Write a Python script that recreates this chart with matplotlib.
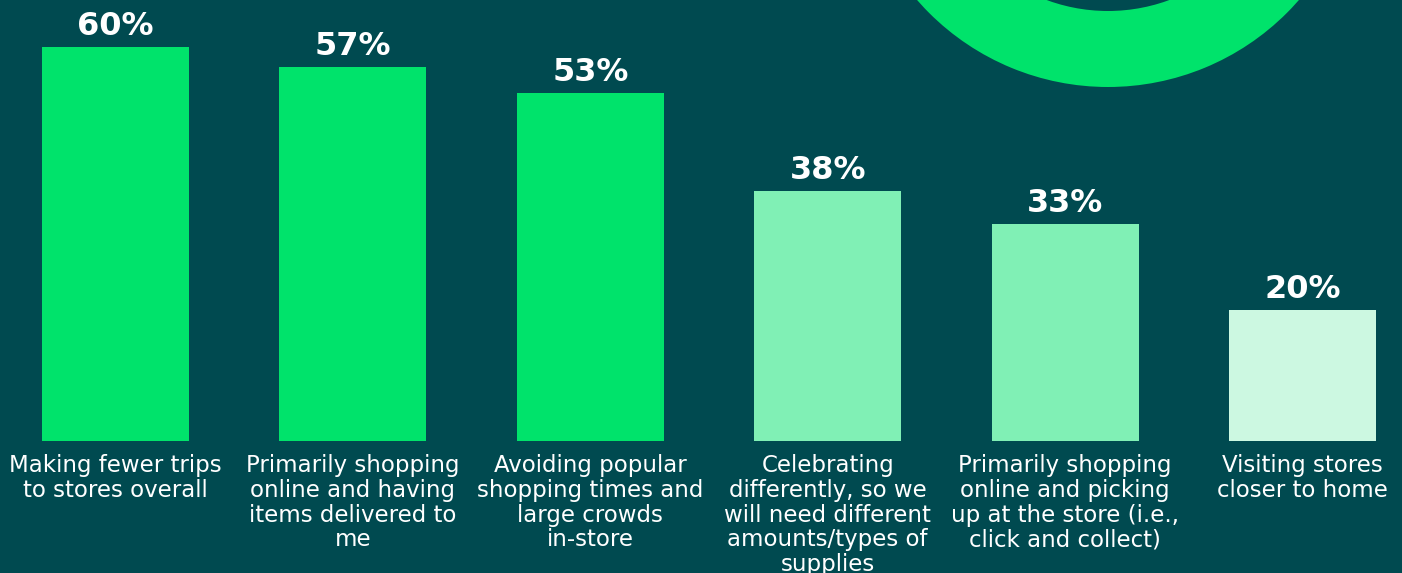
import numpy as np
import matplotlib
matplotlib.use("Agg")
import matplotlib.pyplot as plt
from matplotlib.patches import Wedge

# data
categories = ["Making fewer trips\nto stores overall",
              "Primarily shopping\nonline and having\nitems delivered to\nme",
              "Avoiding popular\nshopping times and\nlarge crowds\nin-store",
              "Celebrating\ndifferently, so we\nwill need different\namounts/types of\nsupplies",
              "Primarily shopping\nonline and picking\nup at the store (i.e.,\nclick and collect)",
              "Visiting stores\ncloser to home"]
values = [60, 57, 53, 38, 33, 20]
bar_colors = ["#00E36B", "#00E36B", "#00E36B", "#80F0B5", "#80F0B5", "#CCF8E1"]

bg = "#004A50"
W, H = 1402, 573

fig = plt.figure(figsize=(W / 100, H / 100), dpi=100)
fig.patch.set_facecolor(bg)

# decorative ring, pixel coordinates
ax_bg = fig.add_axes([0, 0, 1, 1])
ax_bg.set_xlim(0, W)
ax_bg.set_ylim(H, 0)
ax_bg.axis("off")
ax_bg.add_patch(Wedge((1108, -166), 253, 0, 360, width=76, color="#00E36B", lw=0))

# bars
ax = fig.add_axes([0, 0, 1, 1])
ax.patch.set_alpha(0)
step = 237.4
x0 = 115.5
ax.set_xlim(-x0 / step, (W - x0) / step)
ppu = 6.57
base = H - 441
ax.set_ylim(-base / ppu, (H - base) / ppu)
ax.axis("off")

x = np.arange(len(values))
ax.bar(x, values, width=147 / step, color=bar_colors, lw=0)

for xi, v in zip(x, values):
    ax.annotate(f"{v}%", (xi, v), xytext=(0, 5), textcoords="offset pixels",
                ha="center", va="bottom", color="white", fontsize=23,
                fontweight="bold", family="DejaVu Sans")

for xi, lab in zip(x, categories):
    ax.annotate(lab, (xi, 0), xytext=(0, -13), textcoords="offset pixels",
                ha="center", va="top", color="white", fontsize=16.5,
                family="DejaVu Sans", linespacing=1.1)

fig.savefig("out.png", dpi=100, facecolor=bg)
